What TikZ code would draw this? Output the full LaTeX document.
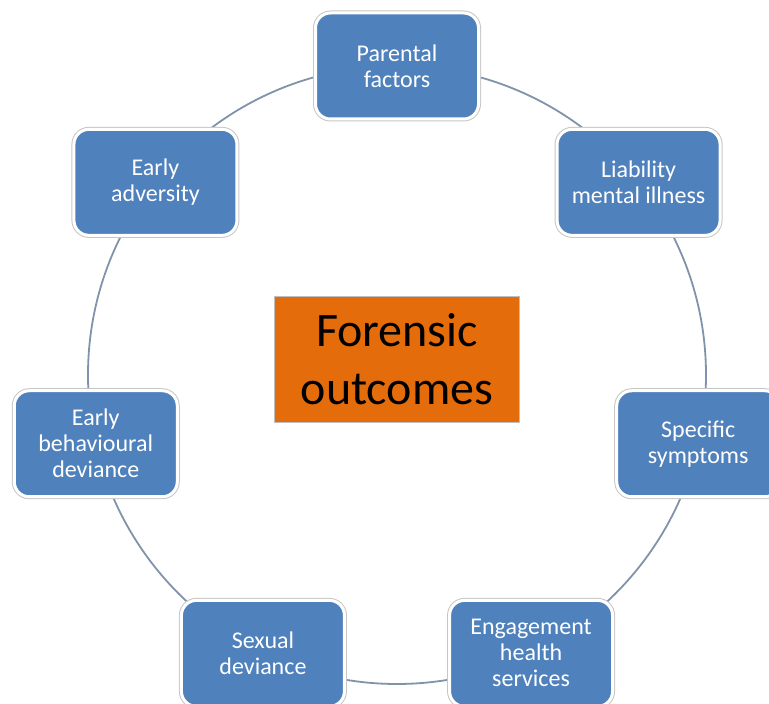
\documentclass[tikz,border=0pt]{standalone}
\usepackage{fontspec}
\setmainfont{Carlito}
\definecolor{boxblue}{HTML}{4F81BD}
\definecolor{ringgray}{HTML}{8093AA}
\definecolor{outorange}{HTML}{E46C0A}
\tikzset{
  factor/.style={rounded corners=15pt, fill=boxblue, draw=white, line width=3pt,
    preaction={draw=gray!45, line width=5pt},
    minimum width=163pt, minimum height=106pt, align=center, text=white,
    font=\fontsize{24}{26}\selectfont},
  outcome/.style={fill=outorange, draw=gray!50, line width=1pt,
    minimum width=245pt, minimum height=126pt, align=center,
    font=\fontsize{48}{58}\selectfont}
}
\begin{document}
\begin{tikzpicture}[x=1pt, y=1pt, line join=round, line cap=round]
			\def\cx{397} \def\cy{329} \def\rr{309}
			\useasboundingbox (0,0) rectangle (769,704);
			\draw[ringgray, line width=1.8pt] (\cx,\cy) circle (\rr);
			\foreach \k/\name/\txt in {0/par/{Parental\\factors}, 1/lia/{Liability\\mental illness},
				2/spec/{Specific\\symptoms}, 3/eng/{Engagement\\health\\services},
				4/sex/{Sexual\\deviance}, 5/beh/{Early\\behavioural\\deviance}, 6/adv/{Early\\adversity}}
			\node[factor] (\name) at ({\cx+\rr*cos(90-\k*360/7)}, {\cy+\rr*sin(90-\k*360/7)}) {\txt};
			\node[outcome] (forensic) at (397,344.5) {Forensic\\outcomes};
		\end{tikzpicture}
\end{document}
